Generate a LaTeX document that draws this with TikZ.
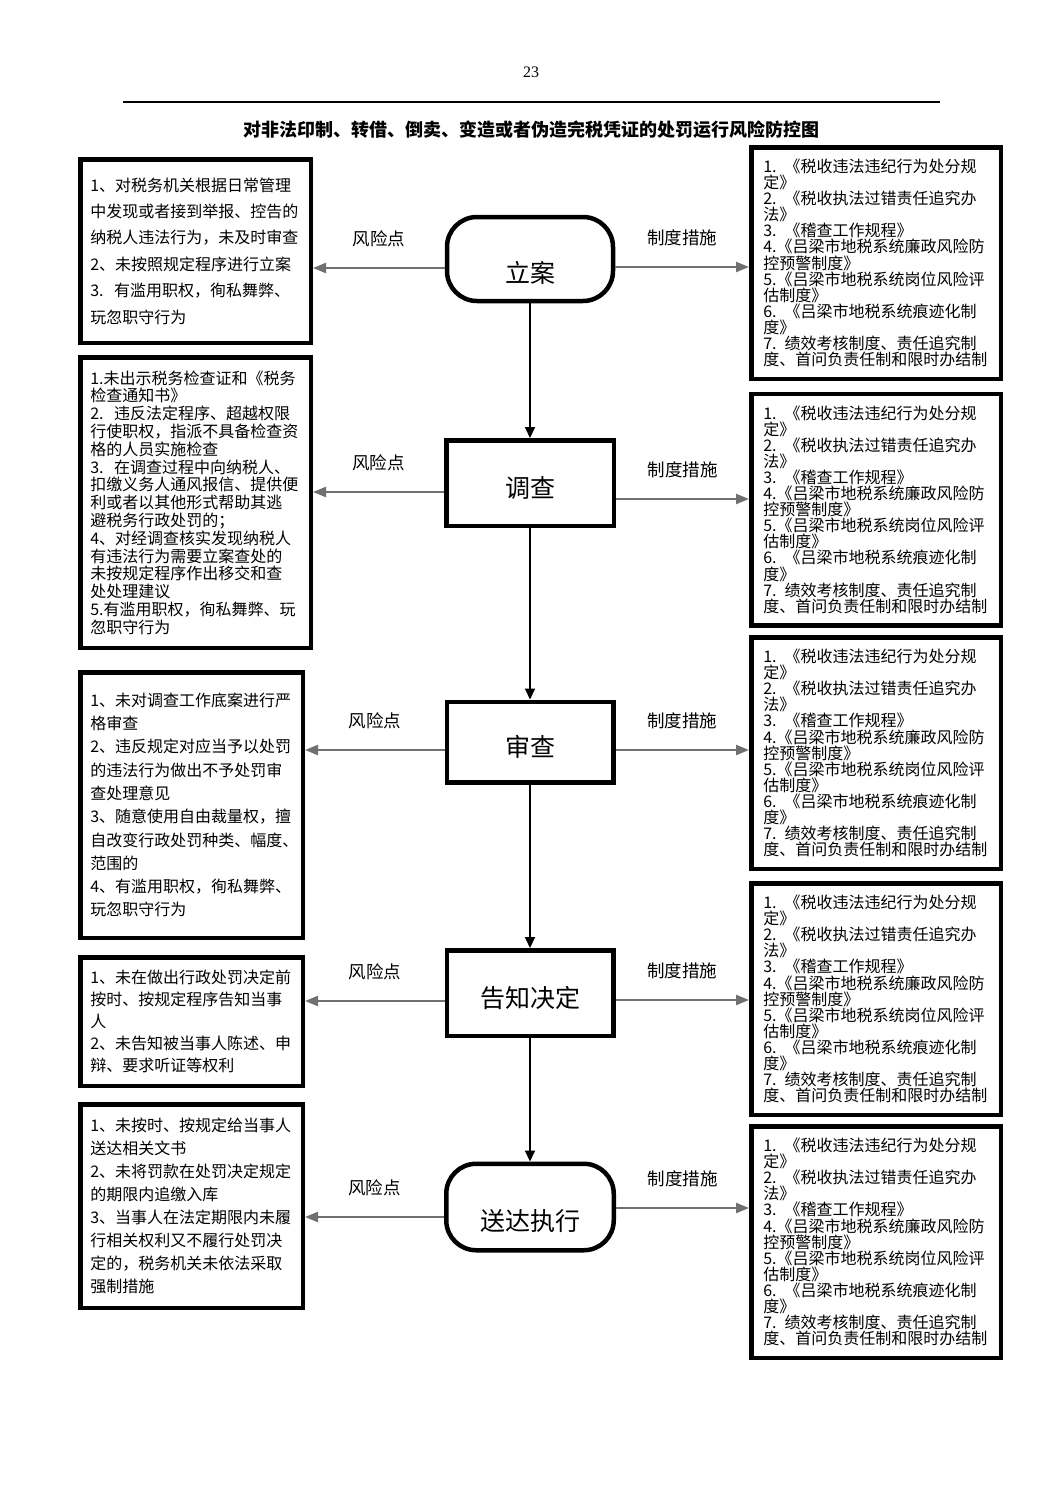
\documentclass[tikz,border=0pt]{standalone}
\usepackage{fontspec}
\setmainfont{Noto Sans CJK SC}
\newfontfamily\pagefont{Liberation Serif}
\usetikzlibrary{arrows.meta}
\definecolor{arrowgray}{RGB}{112,112,112}

% the same list of rules stands in every right box
\newcommand{\zhiduText}{1. 《税收违法违纪行为处分规\\定》\\2. 《税收执法过错责任追究办\\法》\\3. 《稽查工作规程》\\4.《吕梁市地税系统廉政风险防\\控预警制度》\\5.《吕梁市地税系统岗位风险评\\估制度》\\6. 《吕梁市地税系统痕迹化制\\度》\\7. 绩效考核制度、责任追究制\\度、首问负责任制和限时办结制}

\tikzset{
  riskbox/.style={draw, line width=4.5pt, inner xsep=10pt, inner ysep=0pt, align=left,
    font=\fontsize{16}{#1}\selectfont},
  rulebox/.style={draw, line width=4.5pt, inner xsep=12pt, inner ysep=0pt, align=left,
    text width=225.5pt, minimum height=231.5pt, font=\fontsize{16}{16.1}\selectfont},
  stepbox/.style={draw, line width=4.5pt, font=\fontsize{25}{25}\selectfont,
    text height=29pt, text depth=0pt},
  endbox/.style={stepbox, rounded corners=30pt, text height=47pt},
  riskarrow/.style={draw=arrowgray, line width=2.2pt, -{Triangle[length=13pt,width=10pt]}},
  flowarrow/.style={draw=black, line width=2pt, -{Triangle[length=11pt,width=10pt]}},
  tag/.style={midway, yshift=29pt, font=\fontsize{17.5}{17.5}\selectfont}
}

\begin{document}
\begin{tikzpicture}[x=1pt,y=-1pt]
\fill[white] (0,0) rectangle (1063,1502);
\useasboundingbox (0,0) rectangle (1063,1502);

% Page head
\node[font=\pagefont\fontsize{16}{16}\selectfont] (pagenum) at (531,72) {23};
\draw[line width=1.8pt] (123,102) -- (940,102);
\node[font=\bfseries\fontsize{18}{18}\selectfont] (title) at (531,130)
  {对非法印制、转借、倒卖、变造或者伪造完税凭证的处罚运行风险防控图};

% Center flow
\node[endbox, minimum width=166pt, minimum height=84pt] (lian) at (530,259) {立案};
\node[stepbox, minimum width=167.5pt, minimum height=85.5pt] (diaocha) at (530,483) {调查};
\node[stepbox, minimum width=166.5pt, minimum height=80.5pt] (shencha) at (530,742) {审查};
\node[stepbox, minimum width=166.5pt, minimum height=85.5pt] (gaozhi) at (530,993) {告知决定};
\node[endbox, minimum width=167.5pt, minimum height=86.5pt] (songda) at (530,1207) {送达执行};

\draw[flowarrow] (lian) -- (diaocha);
\draw[flowarrow] (diaocha) -- (shencha);
\draw[flowarrow] (shencha) -- (gaozhi);
\draw[flowarrow] (gaozhi) -- (songda);

% Risk points (left)
\node[riskbox={26.4}, text width=210.5pt, minimum height=183.5pt] (risk1) at (195.5,251)
  {1、对税务机关根据日常管理\\中发现或者接到举报、控告的\\纳税人违法行为，未及时审查\\2、未按照规定程序进行立案\\3.\ \ 有滥用职权，徇私舞弊、\\玩忽职守行为};
\node[riskbox={17.8}, text width=210.5pt, minimum height=290.5pt] (risk2) at (195.5,502.5)
  {1.未出示税务检查证和《税务\\检查通知书》\\2.\ \ 违反法定程序、超越权限\\行使职权，指派不具备检查资\\格的人员实施检查\\3.\ \ 在调查过程中向纳税人、\\扣缴义务人通风报信、提供便\\利或者以其他形式帮助其逃\\避税务行政处罚的；\\4、对经调查核实发现纳税人\\有违法行为需要立案查处的\\未按规定程序作出移交和查\\处处理建议\\5.有滥用职权，徇私舞弊、玩\\忽职守行为};
\node[riskbox={23.3}, text width=202.5pt, minimum height=265.5pt] (risk3) at (191.5,805)
  {1、未对调查工作底案进行严\\格审查\\2、违反规定对应当予以处罚\\的违法行为做出不予处罚审\\查处理意见\\3、随意使用自由裁量权，擅\\自改变行政处罚种类、幅度、\\范围的\\4、有滥用职权，徇私舞弊、\\玩忽职守行为};
\node[riskbox={22}, text width=202.5pt, minimum height=128.5pt] (risk4) at (191.5,1021.5)
  {1、未在做出行政处罚决定前\\按时、按规定程序告知当事\\人\\2、未告知被当事人陈述、申\\辩、要求听证等权利};
\node[riskbox={23}, text width=202.5pt, minimum height=203.5pt] (risk5) at (191.5,1206)
  {1、未按时、按规定给当事人\\送达相关文书\\2、未将罚款在处罚决定规定\\的期限内追缴入库\\3、当事人在法定期限内未履\\行相关权利又不履行处罚决\\定的，税务机关未依法采取\\强制措施};

% Measures (right)
\foreach \i/\y in {1/263,2/509.5,3/753,4/999,5/1242}
  \node[rulebox] (rule\i) at (876,\y) {\zhiduText};

% Connections
\draw[riskarrow] (lian.west |- 0,268) -- (risk1.east |- 0,268) node[tag] {风险点};
\draw[riskarrow] (lian.east |- 0,267) -- (rule1.west |- 0,267) node[tag] {制度措施};
\draw[riskarrow] (diaocha.west |- 0,492) -- (risk2.east |- 0,492) node[tag] {风险点};
\draw[riskarrow] (diaocha.east |- 0,499) -- (rule2.west |- 0,499) node[tag] {制度措施};
\draw[riskarrow] (shencha.west |- 0,750) -- (risk3.east |- 0,750) node[tag] {风险点};
\draw[riskarrow] (shencha.east |- 0,750) -- (rule3.west |- 0,750) node[tag] {制度措施};
\draw[riskarrow] (gaozhi.west |- 0,1001) -- (risk4.east |- 0,1001) node[tag] {风险点};
\draw[riskarrow] (gaozhi.east |- 0,1000) -- (rule4.west |- 0,1000) node[tag] {制度措施};
\draw[riskarrow] (songda.west |- 0,1217) -- (risk5.east |- 0,1217) node[tag] {风险点};
\draw[riskarrow] (songda.east |- 0,1208) -- (rule5.west |- 0,1208) node[tag] {制度措施};
\end{tikzpicture}
\end{document}
